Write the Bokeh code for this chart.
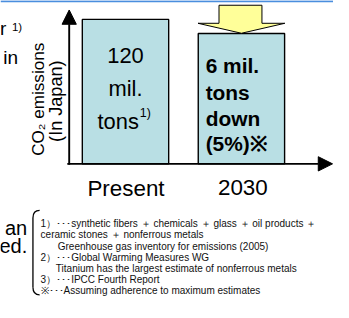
import math
from bokeh.plotting import figure
from bokeh.models import Range1d, Arrow, NormalHead
from bokeh.core.properties import value
from bokeh.embed import file_html
from bokeh.resources import INLINE

# ---------------- data ----------------
categories = ["Present", "2030"]
emissions = [120, 114]          # mil. tons (conceptual bars)
reduction = 6                   # mil. tons down
reduction_pct = 5

present_lines = ["120", "mil.", "tons"]
present_sup = "1)"
future_lines = ["6 mil.", "tons", "down", "(5%)※"]
y_label_lines = ["CO₂ emissions", "(In Japan)"]
left_top = ["r", "in"]
left_top_sup = "1)"
left_bottom = ["an", "ed."]
footnotes = [
    "1）･･･synthetic fibers ＋ chemicals ＋ glass ＋ oil products ＋",
    "ceramic stones ＋ nonferrous metals",
    "Greenhouse gas inventory for emissions (2005)",
    "2）･･･Global Warming Measures WG",
    "Titanium has the largest estimate of nonferrous metals",
    "3）･･･IPCC Fourth Report",
    "※･･･Assuming adherence to maximum estimates",
]

# ---------------- layout ----------------
W, H = 349, 318            # reference canvas units
PW, PH = 333, 302          # page size available
F = 0.952                  # font scale
FONT = value("Liberation Sans")


def fs(s):
    return f"{s * F:.1f}px"


p = figure(width=PW, height=PH, x_range=Range1d(0, W), y_range=Range1d(H, 0),
           x_axis_type=None, y_axis_type=None, toolbar_location=None,
           output_backend="svg", min_border=0, outline_line_color=None,
           background_fill_color="white", border_fill_color="white")
p.grid.visible = False
p.extra_y_ranges = {"val": Range1d(0, 128)}
axis_origin_value = 58.8

# top blue rule
p.segment(x0=[0], y0=[0.8], x1=[W], y1=[0.8], line_color="#4a8ede", line_width=2)

# bars
bar_x = [131, 252.5]
p.vbar(x=bar_x, width=90.5, top=emissions, bottom=axis_origin_value,
       y_range_name="val", fill_color="#b9dfe4", line_color="black", line_width=1.4)

# yellow reduction arrow
p.patch(x=[229, 274, 274, 298, 252.5, 207, 229],
        y=[5, 5, 24, 24, 34.5, 24, 24],
        fill_color="#ffff99", line_color="black", line_width=1)

# axes arrows
p.add_layout(Arrow(end=NormalHead(size=15 * F, fill_color="black", line_color="black"),
                   x_start=72, y_start=173, x_end=72, y_end=10,
                   line_width=1.9, line_color="black"))
p.add_layout(Arrow(end=NormalHead(size=15 * F, fill_color="black", line_color="black"),
                   x_start=70, y_start=172, x_end=348, y_end=172,
                   line_width=1.9, line_color="black"))

common = dict(text_font=FONT, text_color="black")

# present bar texts
p.text(x=[131, 131], y=[58, 93], text=present_lines[:2], text_align="center",
       text_baseline="alphabetic", text_font_size=fs(23), **common)
p.text(x=[145], y=[127], text=[present_lines[2]], text_align="right",
       text_baseline="alphabetic", text_font_size=fs(23), **common)
p.text(x=[146], y=[118.5], text=[present_sup], text_align="left",
       text_baseline="alphabetic", text_font_size=fs(13), **common)

# 2030 bar texts
p.text(x=[215] * 4, y=[68, 97, 124, 151], text=future_lines, text_align="left",
       text_baseline="alphabetic", text_font_size=fs(22), text_font_style="bold", **common)

# category labels
p.text(x=[131.5, 254], y=[198, 197], text=categories, text_align="center",
       text_baseline="alphabetic", text_font_size=fs(23.5), **common)

# rotated y label
p.text(x=[40], y=[104], text=[y_label_lines[0]], angle=math.pi / 2,
       text_align="center", text_baseline="alphabetic",
       text_font_size=fs(18), **common)
p.text(x=[58], y=[106], text=[y_label_lines[1]], angle=math.pi / 2,
       text_align="center", text_baseline="alphabetic",
       text_font_size=fs(19), **common)

# left fragments
p.text(x=[6], y=[30], text=[left_top[0]], text_align="right",
       text_baseline="alphabetic", text_font_size=fs(20), **common)
p.text(x=[12], y=[28], text=[left_top_sup], text_align="left",
       text_baseline="alphabetic", text_font_size=fs(12), **common)
p.text(x=[3], y=[60], text=[left_top[1]], text_align="left",
       text_baseline="alphabetic", text_font_size=fs(20), **common)
p.text(x=[28, 28], y=[240, 259], text=left_bottom, text_align="right",
       text_baseline="alphabetic", text_font_size=fs(21), **common)

# bracket
p.quadratic(x0=[41, 34], y0=[221, 302], x1=[34, 41], y1=[229, 310],
            cx=[34, 34], cy=[221, 310], line_color="black", line_width=1.3)
p.segment(x0=[34], y0=[229], x1=[34], y1=[302], line_color="black", line_width=1.3)

# footnotes
fn_x = [42, 42, 60, 42, 58, 42, 42]
fn_y = [235 + i * 11.8 for i in range(len(footnotes))]
p.text(x=fn_x, y=fn_y, text=footnotes, text_align="left", text_baseline="alphabetic",
       text_font_size=fs(10.5), text_font=FONT, text_color="#111111")

open("out.html", "w").write(file_html(p, INLINE))
